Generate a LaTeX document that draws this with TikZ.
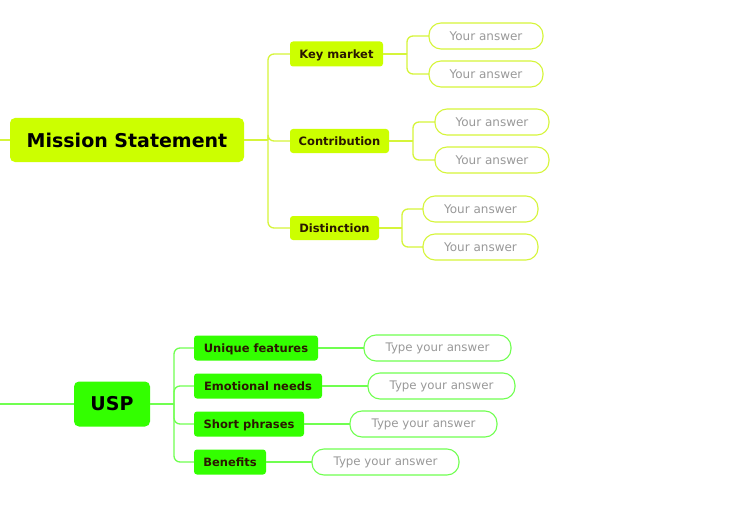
\documentclass[tikz,border=0pt]{standalone}
\usepackage{fontspec}
\setmainfont{DejaVu Sans}
\begin{document}
\begin{tikzpicture}[x=1pt,y=-1pt,
  every node/.style={inner sep=0pt,outer sep=0pt},
  topc/.style={fill=ylime,rounded corners=5pt,font=\bfseries\fontsize{19}{19}\selectfont},
  subY/.style={fill=ylime,rounded corners=3pt,minimum height=25pt,text=subtext,text depth=0pt,font=\bfseries\fontsize{11.5}{12}\selectfont},
  subG/.style={fill=glime,rounded corners=3pt,minimum height=25pt,text=subtext,text depth=0pt,font=\bfseries\fontsize{11.5}{12}\selectfont},
  ansY/.style={draw=ylinec,line width=1.1pt,fill=white,rounded corners=12pt,minimum height=26pt,minimum width=114pt,text=anstext,font=\fontsize{12}{12}\selectfont},
  ansG/.style={draw=glinec,line width=1.1pt,fill=white,rounded corners=12pt,minimum height=26pt,minimum width=147pt,text=anstext,font=\fontsize{11.8}{12}\selectfont},
  ylink/.style={draw=ylinec,line width=1.3pt,rounded corners=6pt},
  glink/.style={draw=glinec,line width=1.3pt,rounded corners=6pt}]
\definecolor{ylime}{HTML}{CCFF00}
\definecolor{glime}{HTML}{33FF00}
\definecolor{ylinec}{HTML}{D6F53A}
\definecolor{glinec}{HTML}{70FF50}
\definecolor{subtext}{HTML}{2A1800}
\definecolor{anstext}{HTML}{999999}
\useasboundingbox (0,0) rectangle (748,527);
\fill[white] (0,0) rectangle (748,527);

% Mission statement
\coordinate (l1) at (0,140);
\coordinate (l2) at (0,404);
\node[topc,minimum width=234pt,minimum height=44pt] (ms) at (127,140) {Mission Statement};
\node[subY,minimum width=93pt] (km) at (336.5,54) {Key market};
\node[subY,minimum width=99pt,minimum height=24pt] (co) at (339.5,141) {Contribution};
\node[subY,minimum width=89pt,minimum height=24pt] (di) at (334.5,228) {Distinction};
\node[ansY] (a1) at (486,36) {Your answer};
\node[ansY] (a2) at (486,74) {Your answer};
\node[ansY] (a3) at (492,122) {Your answer};
\node[ansY] (a4) at (492,160) {Your answer};
\node[ansY,minimum width=115pt] (a5) at (480.5,209) {Your answer};
\node[ansY,minimum width=115pt] (a6) at (480.5,247) {Your answer};

\coordinate (jm) at ([xshift=24pt]ms.east);
\coordinate (jk) at ([xshift=24pt]km.east);
\coordinate (jc) at ([xshift=24pt]co.east);
\coordinate (jd) at ([xshift=23pt]di.east);

\draw[ylink] (l1) -- (ms.west);
\draw[ylink] (ms.east) -- (jm);
\draw[ylink] (jm) |- (km.west);
\draw[ylink] (jm) |- (co.west);
\draw[ylink] (jm) |- (di.west);
\draw[ylink] (km.east) -- (jk);
\draw[ylink] (jk) |- (a1.west);
\draw[ylink] (jk) |- (a2.west);
\draw[ylink] (co.east) -- (jc);
\draw[ylink] (jc) |- (a3.west);
\draw[ylink] (jc) |- (a4.west);
\draw[ylink] (di.east) -- (jd);
\draw[ylink] (jd) |- (a5.west);
\draw[ylink] (jd) |- (a6.west);

% USP
\node[topc,fill=glime,minimum width=76pt,minimum height=45pt] (usp) at (112,404) {USP};
\node[subG,minimum width=124pt] (uf) at (256,348) {Unique features};
\node[subG,minimum width=128pt] (en) at (258,386) {Emotional needs};
\node[subG,minimum width=110pt] (sp) at (249,424) {Short phrases};
\node[subG,minimum width=72pt] (be) at (230,462) {Benefits};
\node[ansG] (b1) at (437.5,348) {Type your answer};
\node[ansG] (b2) at (441.5,386) {Type your answer};
\node[ansG] (b3) at (423.5,424) {Type your answer};
\node[ansG] (b4) at (385.5,462) {Type your answer};

\coordinate (ju) at ([xshift=24pt]usp.east);
\draw[glink] (l2) -- (usp.west);
\draw[glink] (usp.east) -- (ju);
\draw[glink] (ju) |- (uf.west);
\draw[glink] (ju) |- (en.west);
\draw[glink] (ju) |- (sp.west);
\draw[glink] (ju) |- (be.west);
\draw[glink] (uf.east) -- (b1.west);
\draw[glink] (en.east) -- (b2.west);
\draw[glink] (sp.east) -- (b3.west);
\draw[glink] (be.east) -- (b4.west);
\end{tikzpicture}
\end{document}
